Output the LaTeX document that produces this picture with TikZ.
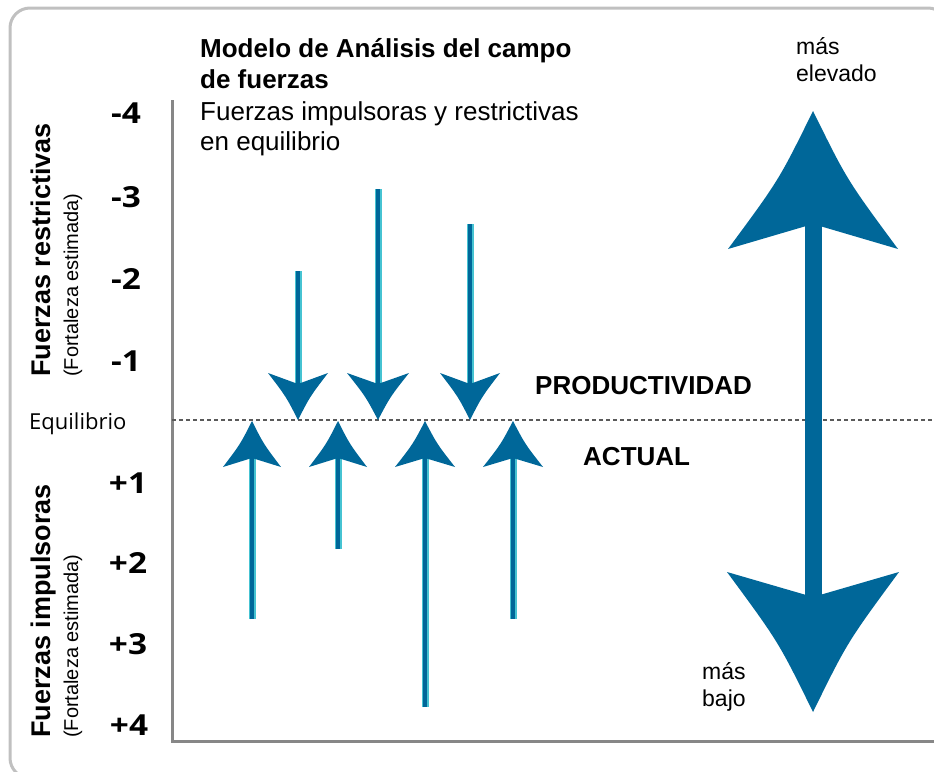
\documentclass[tikz,border=0pt]{standalone}
\usepackage{fontspec}
\setmainfont{Liberation Sans}
\newfontfamily\osans{Open Sans}
\definecolor{arrowc}{RGB}{0,103,153}
\definecolor{edgec}{RGB}{70,195,210}
\definecolor{axisc}{RGB}{135,135,135}
\definecolor{framec}{RGB}{192,192,192}
\definecolor{dotc}{RGB}{90,90,90}
% arrow head: tip x, tip y, half width, signed length, signed notch
\newcommand\fhead[5]{\fill[arrowc] (#1,#2) .. controls ({#1+0.40*(#3)},{#2+0.5*(#4)}) .. ({#1+#3},{#2+#4}) -- (#1,{#2+#4-(#5)}) -- ({#1-#3},{#2+#4}) .. controls ({#1-0.40*(#3)},{#2+0.5*(#4)}) .. (#1,#2) -- cycle;}
\tikzset{
  tick/.style={font=\osans\bfseries\fontsize{29}{29}\selectfont, anchor=base, inner sep=0pt, xscale=1.15},
  title/.style={font=\bfseries\fontsize{26}{31}\selectfont, anchor=base west, inner sep=0pt},
  sub/.style={font=\fontsize{26}{31}\selectfont, anchor=base west, inner sep=0pt},
  small/.style={font=\fontsize{23}{27}\selectfont, anchor=base west, inner sep=0pt},
  rotbold/.style={font=\bfseries\fontsize{27}{27}\selectfont, anchor=base west, rotate=90, inner sep=0pt},
  rotparen/.style={font=\fontsize{20}{20}\selectfont, anchor=base west, rotate=90, inner sep=0pt},
  level/.style={font=\bfseries\fontsize{26}{26}\selectfont, anchor=base west, inner sep=0pt},
  shaft/.style={draw=arrowc, line width=4.5, preaction={draw=edgec, line width=7}},
  bigshaft/.style={draw=arrowc, line width=17},
}
\begin{document}
\begin{tikzpicture}[x=1pt,y=-1pt]
\useasboundingbox (0,0) rectangle (934,771);
\begin{scope}
\clip (0,0) rectangle (934,771);
\draw[framec, line width=3, rounded corners=20] (10,8) rectangle (948,778);
\end{scope}
% axes
\coordinate (axtop) at (172,100);
\coordinate (axcorner) at (172,741);
\coordinate (axright) at (940,741);
\draw[axisc, line width=3] (axtop) -- (axcorner) -- (axright);
\coordinate (eqL) at (172,420);
\coordinate (eqR) at (934,420);
\draw[dotc, line width=2, dash pattern=on 4pt off 3pt] (eqL) -- (eqR);
% tick labels
\node[tick] (tm4) at (126,123) {-4};
\node[tick] (tm3) at (126,207) {-3};
\node[tick] (tm2) at (126,289) {-2};
\node[tick] (tm1) at (126,371) {-1};
\node[tick] (tp1) at (128,493) {+1};
\node[tick] (tp2) at (128,573) {+2};
\node[tick] (tp3) at (128,654) {+3};
\node[tick] (tp4) at (129,735) {+4};
\node[font=\osans\fontsize{22}{22}\selectfont, anchor=base west, inner sep=0pt] (eq) at (29,429) {Equilibrio};
% side labels
\node[rotbold] (fr) at (50,377) {Fuerzas restrictivas};
\node[rotparen] (fre) at (78,377) {(Fortaleza estimada)};
\node[rotbold] (fi) at (50,738) {Fuerzas impulsoras};
\node[rotparen] (fie) at (78,738) {(Fortaleza estimada)};
% titles
\node[title] (t1) at (200,57) {Modelo de Análisis del campo};
\node[title] (t2) at (200,88) {de fuerzas};
\node[sub] (s1) at (200,120) {Fuerzas impulsoras y restrictivas};
\node[sub] (s2) at (200,150) {en equilibrio};
\node[small] (hi1) at (796,54) {más};
\node[small] (hi2) at (796,81) {elevado};
\node[small] (lo1) at (702,679) {más};
\node[small] (lo2) at (702,706) {bajo};
\node[level] (prod) at (535,394) {PRODUCTIVIDAD};
\node[level] (act) at (583,465) {ACTUAL};
% restraining arrows (down)
\coordinate (d1s) at (298,271); \coordinate (d1e) at (298,405);
\coordinate (d2s) at (378,189); \coordinate (d2e) at (378,405);
\coordinate (d3s) at (470,224); \coordinate (d3e) at (470,405);
\draw[shaft] (d1s) -- (d1e);
\draw[shaft] (d2s) -- (d2e);
\draw[shaft] (d3s) -- (d3e);
\fhead{298}{420}{30}{-47}{-11}
\fhead{378}{420}{31}{-47}{-11}
\fhead{470}{420}{30}{-47}{-11}
% driving arrows (up)
\coordinate (u1s) at (252,619); \coordinate (u1e) at (252,440);
\coordinate (u2s) at (338,549); \coordinate (u2e) at (338,440);
\coordinate (u3s) at (425,707); \coordinate (u3e) at (425,440);
\coordinate (u4s) at (513,619); \coordinate (u4e) at (513,440);
\draw[shaft] (u1s) -- (u1e);
\draw[shaft] (u2s) -- (u2e);
\draw[shaft] (u3s) -- (u3e);
\draw[shaft] (u4s) -- (u4e);
\fhead{252}{421}{29}{46}{9}
\fhead{338}{421}{29}{46}{9}
\fhead{425}{421}{30}{46}{9}
\fhead{513}{421}{30}{46}{9}
% big double arrow
\coordinate (bt) at (813,200); \coordinate (bb) at (813,620);
\draw[bigshaft] (bt) -- (bb);
\fhead{813}{111}{85}{138}{25}
\fhead{813}{712}{86}{-140}{-25}
\end{tikzpicture}
\end{document}
